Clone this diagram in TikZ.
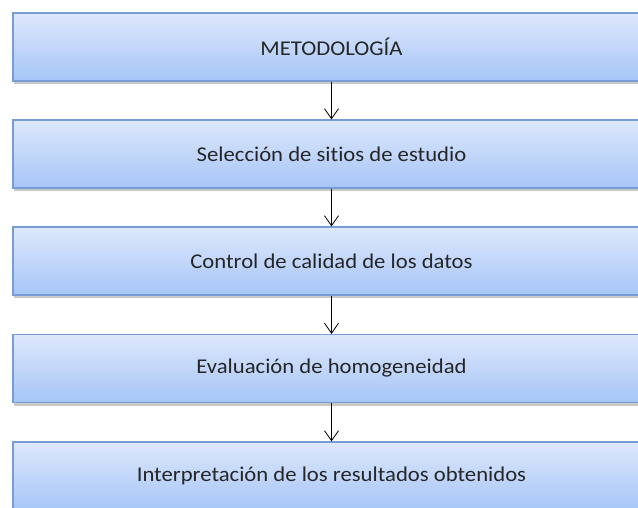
\documentclass[tikz,border=0pt]{standalone}
\usepackage{fontspec}
\setmainfont{Carlito}[Ligatures=CommonOff,FakeStretch=1.08]
\usetikzlibrary{arrows.meta,shadows}
\definecolor{boxtop}{RGB}{221,232,252}
\definecolor{boxbot}{RGB}{166,197,247}
\definecolor{boxline}{RGB}{120,157,212}
\tikzset{
  stepbox/.style={draw=boxline, line width=1.2pt, top color=boxtop, bottom color=boxbot,
    minimum width=637pt, minimum height=68pt, inner sep=0pt, font=\fontsize{21}{25}\selectfont,
    text=black!85,
    drop shadow={shadow xshift=0.5pt, shadow yshift=-3pt, opacity=0.35, fill=black!60}},
  link/.style={-{Straight Barb[length=10pt,width=14pt,line width=0.8pt]}, line width=0.8pt, black}
}
\begin{document}
\begin{tikzpicture}[x=1pt,y=-1pt]
\useasboundingbox (0,0) rectangle (638,508);
\clip (0,0) rectangle (638,508);
\fill[white] (0,0) rectangle (638,508);
\node[stepbox] (b1) at (331.5,47) {METODOLOGÍA};
\node[stepbox] (b2) at (331.5,154) {Selección de sitios de estudio};
\node[stepbox] (b3) at (331.5,261) {Control de calidad de los datos};
\node[stepbox] (b4) at (331.5,368.5) {Evaluación de homogeneidad};
\node[stepbox] (b5) at (331.5,476) {Interpretación de los resultados obtenidos};
\draw[link] (b1.south) -- (b2.north);
\draw[link] (b2.south) -- (b3.north);
\draw[link] (b3.south) -- (b4.north);
\draw[link] (b4.south) -- (b5.north);
\end{tikzpicture}
\end{document}
